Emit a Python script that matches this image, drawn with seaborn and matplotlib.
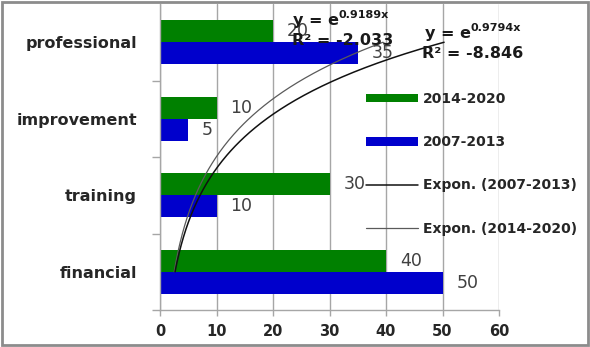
import numpy as np
import pandas as pd
import seaborn as sns
import matplotlib.pyplot as plt
from matplotlib.patches import Rectangle, Patch
from matplotlib.lines import Line2D

# Funding areas, listed top to bottom
categories = ["professional", "improvement", "training", "financial"]
periods = ["2014-2020", "2007-2013"]
values_2014_2020 = [20, 10, 30, 40]
values_2007_2013 = [35, 5, 10, 50]
period_colors = ["#008000", "#0000CC"]

# Exponential trendlines y = e^(b*x), x = 1 (financial) .. 4 (professional)
trend_b_2007_2013 = 0.9794
trend_r2_2007_2013 = -8.846
trend_b_2014_2020 = 0.9189
trend_r2_2014_2020 = -2.033
tick_values = [0, 10, 20, 30, 40, 50, 60]

sns.set_theme(style="white")
plt.rcParams["font.family"] = ["DejaVu Sans"]

df = pd.DataFrame({
    "category": categories * 2,
    "period": [periods[0]] * len(categories) + [periods[1]] * len(categories),
    "value": values_2014_2020 + values_2007_2013,
})

fig = plt.figure(figsize=(5.9, 3.47), dpi=100)
ax = fig.add_axes([160 / 590, 1 - 310 / 347, (499 - 160) / 590, (310 - 4) / 347])

sns.barplot(data=df, y="category", x="value", hue="period", order=categories,
            hue_order=periods, palette=period_colors, saturation=1, width=0.57,
            orient="h", ax=ax, legend=False, linewidth=0)

ax.set_xlim(0, 60)
ax.set_ylim(len(categories) - 0.5, -0.5)
ax.set_xlabel("")
ax.set_ylabel("")

grid_color = "#A6A6A6"
text_color = "#262626"
ax.set_axisbelow(True)
ax.set_xticks(tick_values)
ax.xaxis.grid(True, color=grid_color, lw=1)
ax.yaxis.grid(False)
for side in ["top", "right"]:
    ax.spines[side].set_visible(False)
for side in ["left", "bottom"]:
    ax.spines[side].set_color(grid_color)
    ax.spines[side].set_linewidth(1)

ax.set_yticks(range(len(categories)))
ax.set_yticklabels(categories, fontsize=11.5, fontweight="bold", color=text_color)
ax.set_yticks([i + 0.5 for i in range(len(categories))], minor=True)
ax.tick_params(axis="y", which="major", length=0, pad=16.5)
ax.tick_params(axis="y", which="minor", length=6, width=1, color=grid_color, left=True)
ax.tick_params(axis="x", length=4, width=1, color=grid_color, pad=6, bottom=True,
               labelsize=10.5, labelcolor=text_color)
for lbl in ax.get_xticklabels():
    lbl.set_fontweight("bold")

# Value labels beside each bar
for container in ax.containers:
    ax.bar_label(container, padding=10, fontsize=12.5, color="#404040")

# Trendlines
k = np.linspace(1, len(categories), 200)
ax.plot(np.exp(trend_b_2014_2020 * k), len(categories) - k, color="#5A5A5A", lw=0.9)
ax.plot(np.exp(trend_b_2007_2013 * k), len(categories) - k, color="#111111", lw=1.1)


def equation(x, y_eq, y_r2, x_r2, b, r2):
    main = ax.text(x, y_eq, "y = e", fontsize=11.5, fontweight="bold",
                   color="#1A1A1A", va="baseline", ha="left")
    ax.annotate(f"{b}x", xy=(1.0, 0.5), xycoords=main, fontsize=8,
                fontweight="bold", color="#1A1A1A", va="bottom", ha="left")
    ax.text(x_r2, y_r2, f"R² = {r2}", fontsize=11.5, fontweight="bold",
            color="#1A1A1A", va="baseline", ha="left")


equation(23.5, -0.226, 0.036, 23.3, trend_b_2014_2020, trend_r2_2014_2020)
equation(46.9, -0.056, 0.206, 46.4, trend_b_2007_2013, trend_r2_2007_2013)

handles = [
    Patch(facecolor=period_colors[0], edgecolor="none"),
    Patch(facecolor=period_colors[1], edgecolor="none"),
    Line2D([], [], color="#111111", lw=1.1),
    Line2D([], [], color="#5A5A5A", lw=0.9),
]
labels = ["2014-2020", "2007-2013", "Expon. (2007-2013)", "Expon. (2014-2020)"]
fig.legend(handles, labels, loc="upper left", bbox_to_anchor=(366 / 590, 1 - 92 / 347),
           frameon=False, borderpad=0, borderaxespad=0,
           prop={"weight": "bold", "size": 10}, labelcolor=text_color,
           handlelength=3.75, handleheight=0.58, handletextpad=0.35, labelspacing=2.1)

fig.add_artist(Rectangle((0.004, 0.006), 0.992, 0.988, transform=fig.transFigure,
                         fill=False, edgecolor="#8C8C8C", lw=2))

fig.savefig("out.png", dpi=100)
